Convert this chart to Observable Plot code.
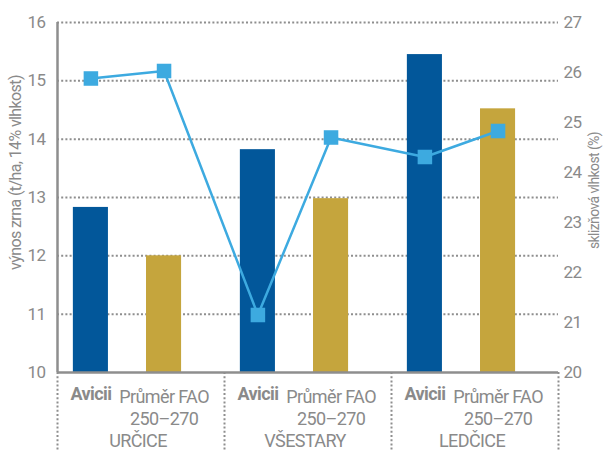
<!DOCTYPE html>
<html><head><meta charset="utf-8">
<script src="https://cdn.jsdelivr.net/npm/d3@7"></script>
<script src="https://cdn.jsdelivr.net/npm/@observablehq/plot@0.6"></script>
<style>body{margin:0;background:#fff} svg text{letter-spacing:-0.6px}</style>
</head><body><div id="chart"></div>
<script>
// ---- data ----
const groups = ["URČICE", "VŠESTARY", "LEDČICE"];
const categories = ["Avicii", "Průměr FAO\n250–270"];
const yieldAvicii = [12.83, 13.82, 15.45];
const yieldFAO = [12.0, 12.98, 14.52];
const moistureAvicii = [25.88, 21.15, 24.31];
const moistureFAO = [26.03, 24.7, 24.83];
const yieldTicks = [10, 11, 12, 13, 14, 15, 16];
const moistureTicks = [20, 21, 22, 23, 24, 25, 26, 27];
const yTitle = "výnos zrna (t/ha, 14% vlhkost)";
const y2Title = "sklizňová vlhkost (%)";

// ---- layout / style ----
const FONT = "Roboto, 'Liberation Sans', sans-serif";
const GRAY = "#8a8a8a";
const AXIS = "#8e8e8e";
const BLUE = "#3daae0";
const slot = [0.2, 0.638];
const half = 0.105;
const toLeft = m => 10 + (m - 20) * 6 / 7;
const fromLeft = v => 20 + (v - 10) * 7 / 6;

const rows = [];
groups.forEach((g, gi) => {
  rows.push({group: g, gi, cat: categories[0], ci: 0, yield: yieldAvicii[gi], moisture: moistureAvicii[gi]});
  rows.push({group: g, gi, cat: categories[1], ci: 1, yield: yieldFAO[gi], moisture: moistureFAO[gi]});
});
const xc = d => d.gi + slot[d.ci];

const chart = Plot.plot({
  width: 603, height: 450,
  marginLeft: 57, marginRight: 45, marginTop: 22, marginBottom: 78,
  style: {fontFamily: FONT, color: GRAY, background: "white", overflow: "visible"},
  x: {domain: [0, 3], axis: null},
  y: {domain: [10, 16], axis: null},
  color: {domain: categories, range: ["#02579a", "#c5a53d"]},
  marks: [
    Plot.ruleY(yieldTicks.slice(1), {stroke: AXIS, strokeWidth: 2, strokeDasharray: "2 2.2"}),
    Plot.rectY(rows, {x1: d => xc(d) - half, x2: d => xc(d) + half, y1: 10, y2: "yield", fill: "cat"}),
    Plot.ruleX([0, 1, 2, 3], {y1: 10, y2: 8.6, stroke: AXIS, strokeWidth: 2, strokeDasharray: "2 2.2"}),
    Plot.ruleY([10], {stroke: AXIS, strokeWidth: 2.5}),
    Plot.ruleX([0], {stroke: AXIS, strokeWidth: 2.5}),
    Plot.line(rows, {x: xc, y: d => toLeft(d.moisture), stroke: BLUE, strokeWidth: 2.5}),
    Plot.dot(rows, {x: xc, y: d => toLeft(d.moisture), symbol: "square", r: 8.2, fill: BLUE}),
    Plot.axisY(yieldTicks, {anchor: "left", tickSize: 0, tickPadding: 12, fontSize: 17,
      tickFormat: d => String(d), label: null}),
    Plot.axisY(moistureTicks.map(toLeft), {anchor: "right", tickSize: 0, tickPadding: 5, fontSize: 17,
      tickFormat: v => String(Math.round(fromLeft(v))), label: null}),
    Plot.text(rows.filter(d => d.ci === 0), {x: xc, text: "cat", frameAnchor: "bottom", lineAnchor: "top",
      dy: 15, fontSize: 18, fontWeight: "bold", fill: GRAY}),
    Plot.text(rows.filter(d => d.ci === 1), {x: xc, text: "cat", frameAnchor: "bottom", lineAnchor: "top",
      dy: 15, fontSize: 18, lineHeight: 1.22, fill: GRAY}),
    Plot.text(groups, {x: (d, i) => i + 0.5, text: d => d, frameAnchor: "bottom", lineAnchor: "top",
      dy: 62, dx: -3, fontSize: 18, fill: GRAY}),
    Plot.text([yTitle], {text: d => d, frameAnchor: "left", textAnchor: "middle", rotate: -90,
      dx: -42, dy: -25, fontSize: 16, fill: GRAY}),
    Plot.text([y2Title], {text: d => d, frameAnchor: "right", textAnchor: "middle", rotate: -90,
      dx: 36, dy: -7, fontSize: 14, fill: GRAY})
  ]
});
document.getElementById("chart").appendChild(chart);
</script>
</body></html>
